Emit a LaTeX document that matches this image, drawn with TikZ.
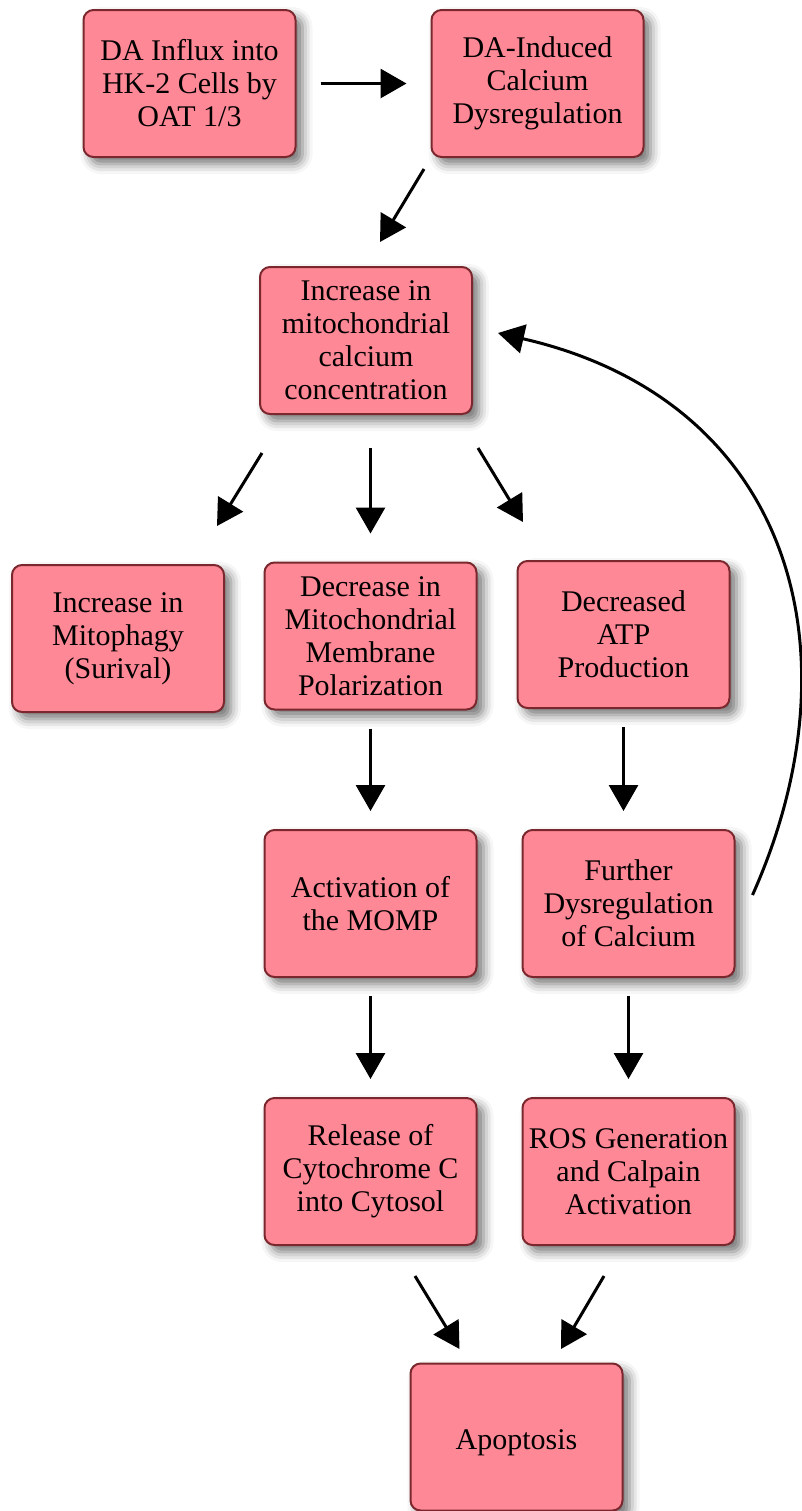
\documentclass[tikz,border=0pt]{standalone}
\usepackage{fontspec}
\setmainfont{Liberation Serif}
\usetikzlibrary{arrows.meta,calc,shadows.blur}
\definecolor{boxfill}{RGB}{255,136,150}
\definecolor{boxline}{RGB}{122,40,46}
\begin{document}
\begin{tikzpicture}[x=0.5pt,y=-0.5pt,
  box/.style={draw=boxline, line width=1pt, fill=boxfill, rounded corners=5pt,
    minimum width=106pt, minimum height=73.5pt, align=center, inner sep=0pt,
    font=\fontsize{15}{16.5}\selectfont,
    blur shadow={shadow xshift=3.5pt, shadow yshift=-3.5pt, shadow blur radius=5pt, shadow opacity=55}},
  arr/.style={line width=1.5pt, -{Triangle[length=13pt,width=14.5pt]}}]
\useasboundingbox (0,0) rectangle (802,1511);
\node[box] (b1) at (189.5,83.5) {DA Influx into\\HK-2 Cells by\\OAT 1/3};
\node[box] (b2) at (537.5,83.5) {DA-Induced\\Calcium\\Dysregulation};
\node[box] (b3) at (366,340.5) {Increase in\\mitochondrial\\calcium\\concentration};
\node[box] (b4) at (118,638.5) {Increase in\\Mitophagy\\(Surival)};
\node[box] (b5) at (370.5,636) {Decrease in\\Mitochondrial\\Membrane\\Polarization};
\node[box] (b6) at (623.5,634.5) {Decreased\\ATP\\Production};
\node[box] (b7) at (370.5,903.5) {Activation of\\the MOMP};
\node[box] (b8) at (628.5,903.5) {Further\\Dysregulation\\of Calcium};
\node[box] (b9) at (370.5,1171.5) {Release of\\Cytochrome C\\into Cytosol};
\node[box] (b10) at (628.5,1171.5) {ROS Generation\\and Calpain\\Activation};
\node[box] (b11) at (516.5,1437) {\raisebox{-6pt}[0pt][0pt]{Apoptosis}};
% connectors
\draw[arr, shorten <=12pt, shorten >=12pt] (b1.east) -- (b2.west);
\draw[arr] ($(b2.south west)+(-6.5,11)$) -- ($(b3.north)+(14,-24)$);
\draw[arr] ($(b3.south)+(-104,38)$) -- ($(b4.north)+(99,-38)$);
\draw[arr, shorten <=16.5pt, shorten >=14pt] (b5.north |- b3.south) -- (b5.north);
\draw[arr] ($(b3.south)+(112,33)$) -- ($(b6.north)+(-100.5,-38)$);
\draw[arr, shorten <=9pt, shorten >=9pt] (b5.south) -- (b7.north);
\draw[arr, shorten <=9pt, shorten >=9pt] (b6.south) -- (b6.south |- b8.north);
\draw[arr, shorten <=9pt, shorten >=9pt] (b7.south) -- (b9.north);
\draw[arr, shorten <=9pt, shorten >=9pt] (b8.south) -- (b10.north);
\draw[arr] ($(b9.south)+(44.5,30)$) -- ($(b11.north)+(-57,-13.5)$);
\draw[arr] ($(b10.south)+(-24.5,30)$) -- ($(b11.north)+(44.5,-13.5)$);
\draw[arr] ($(b8.east)+(17,-8.5)$) .. controls (862,650) and (790,400) .. ($(b3.east)+(25,-7.5)$);
\end{tikzpicture}
\end{document}
